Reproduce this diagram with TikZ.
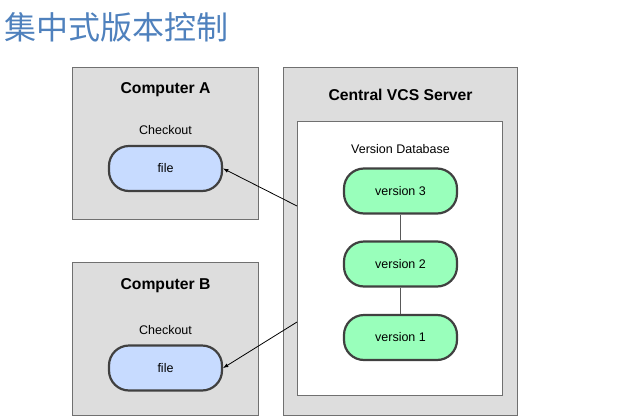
\documentclass[tikz,border=0pt]{standalone}
\usepackage{fontspec}
\setmainfont{Liberation Sans}
\newfontfamily\cjk{Noto Sans CJK SC}

\definecolor{titleblue}{RGB}{79,129,189}
\definecolor{boxgray}{RGB}{221,221,221}
\definecolor{edgegray}{RGB}{112,112,112}
\definecolor{fileblue}{RGB}{199,219,255}
\definecolor{versiongreen}{RGB}{153,255,187}

\tikzset{
  machine/.style={draw=edgegray, fill=boxgray, line width=1.2pt, inner sep=0pt},
  database/.style={draw=edgegray, fill=white, line width=1.2pt, inner sep=0pt},
  filebox/.style={draw=black!75, fill=fileblue, line width=2.2pt, rounded corners=20pt,
    minimum width=113pt, minimum height=45pt, font=\fontsize{12.5}{14}\selectfont},
  versionbox/.style={filebox, fill=versiongreen},
  heading/.style={font=\fontsize{15.7}{18}\selectfont\bfseries},
  caption/.style={font=\fontsize{12.5}{14}\selectfont}
}

\begin{document}
\begin{tikzpicture}[x=1pt, y=-1pt]
             \useasboundingbox (0,0) rectangle (640,418);
             \node[text=titleblue, inner sep=0pt, anchor=west, font=\cjk\fontsize{32}{38}\selectfont] (title) at (4, 27) {集中式版本控制};

             \node[machine, minimum width=186pt, minimum height=152pt] (compA) at (165.5, 143.5) {};
             \node[heading] (nameA) at (165.5, 89.5) {Computer A};
             \node[caption] (checkA) at (165.5, 130) {Checkout};
             \node[filebox] (fileA) at (165.5, 168.5) {file};

             \node[machine, minimum width=186pt, minimum height=153pt] (compB) at (165.5, 339) {};
             \node[heading] (nameB) at (165.5, 285.5) {Computer B};
             \node[caption] (checkB) at (165.5, 330) {Checkout};
             \node[filebox] (fileB) at (165.5, 368) {file};

             \node[machine, minimum width=234pt, minimum height=348pt] (server) at (400.5, 241.5) {};
             \node[heading] (nameS) at (400.5, 95) {Central VCS Server};
             \node[database, minimum width=205pt, minimum height=274pt] (db) at (400, 258.5) {};
             \node[caption] (nameDB) at (400.5, 149) {Version Database};

             \node[versionbox] (v3) at (400.5, 191) {version 3};
             \node[versionbox] (v2) at (400.5, 264) {version 2};
             \node[versionbox] (v1) at (400.5, 337.5) {version 1};
             \draw[black!65, line width=1pt] (v3) -- (v2);
             \draw[black!65, line width=1pt] (v2) -- (v1);

             \coordinate (outA) at (297, 206);
             \coordinate (outB) at (297, 322);
             \draw[-latex, line width=0.8pt] (outA) -- (fileA.east);
             \draw[-latex, line width=0.8pt] (outB) -- (fileB.east);
\end{tikzpicture}
\end{document}
